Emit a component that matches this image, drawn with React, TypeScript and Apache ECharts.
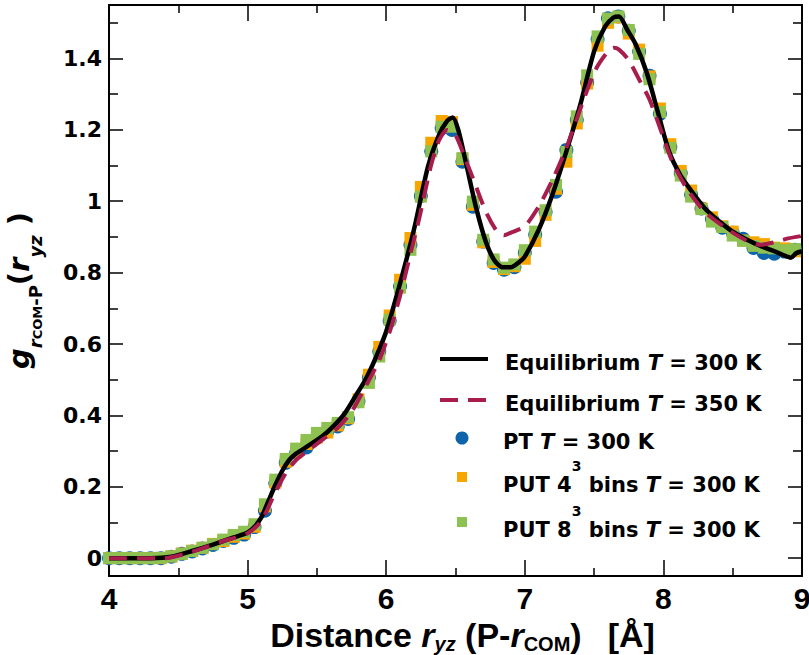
import React, { useEffect, useRef } from "react";
import * as echarts from "echarts";

// ---------- data ----------
const rValues = [
  4.0, 4.075, 4.15, 4.225, 4.3, 4.375, 4.45, 4.525, 4.6, 4.675, 4.75, 4.825, 4.9, 4.975,
  5.05, 5.125, 5.2, 5.275, 5.35, 5.425, 5.5, 5.575, 5.65, 5.725, 5.8, 5.875, 5.95,
  6.025, 6.1, 6.175, 6.25, 6.325, 6.4, 6.475, 6.55, 6.625, 6.7, 6.775, 6.85, 6.925,
  7.0, 7.075, 7.15, 7.225, 7.3, 7.375, 7.45, 7.525, 7.6, 7.675, 7.75, 7.825, 7.9, 7.975,
  8.05, 8.125, 8.2, 8.275, 8.35, 8.425, 8.5, 8.575, 8.65, 8.725, 8.8, 8.875, 8.95,
];

const ptValues = [
  0, 0, 0, 0, 0, 0, 0.004, 0.012, 0.019, 0.027, 0.037, 0.048, 0.057, 0.066,
  0.087, 0.133, 0.21, 0.267, 0.295, 0.31, 0.338, 0.355, 0.369, 0.39, 0.44, 0.506, 0.579,
  0.665, 0.762, 0.878, 1.015, 1.14, 1.205, 1.2, 1.111, 0.985, 0.887, 0.827, 0.808, 0.815,
  0.856, 0.906, 0.97, 1.027, 1.144, 1.228, 1.333, 1.454, 1.513, 1.518, 1.478, 1.42, 1.352, 1.245,
  1.152, 1.079, 1.018, 0.98, 0.95, 0.926, 0.912, 0.895, 0.869, 0.855, 0.853, 0.859, 0.864,
];

const put4Values = [
  0, 0, 0, 0, 0, 0, 0.005, 0.013, 0.021, 0.029, 0.04, 0.048, 0.06, 0.069,
  0.088, 0.145, 0.212, 0.27, 0.296, 0.32, 0.338, 0.352, 0.372, 0.392, 0.445, 0.514, 0.592,
  0.68, 0.78, 0.897, 1.04, 1.164, 1.225, 1.222, 1.118, 0.99, 0.885, 0.83, 0.81, 0.818,
  0.839, 0.889, 0.962, 1.035, 1.111, 1.218, 1.33, 1.436, 1.5, 1.515, 1.47, 1.425, 1.35, 1.26,
  1.16, 1.085, 1.03, 0.98, 0.955, 0.93, 0.915, 0.89, 0.885, 0.88, 0.87, 0.868, 0.86,
];

const put8Values = [
  0, 0, 0, 0, 0, 0.001, 0.005, 0.012, 0.02, 0.029, 0.039, 0.052, 0.065, 0.074,
  0.095, 0.151, 0.22, 0.278, 0.307, 0.331, 0.351, 0.365, 0.379, 0.395, 0.437, 0.491, 0.565,
  0.668, 0.758, 0.864, 1.013, 1.14, 1.209, 1.209, 1.121, 0.999, 0.892, 0.837, 0.814, 0.823,
  0.863, 0.915, 0.975, 1.046, 1.138, 1.238, 1.353, 1.462, 1.512, 1.518, 1.48, 1.413, 1.342, 1.25,
  1.15, 1.072, 1.013, 0.978, 0.943, 0.928, 0.904, 0.889, 0.875, 0.87, 0.868, 0.863, 0.866,
];

const eq300X = [
  4.0, 4.3, 4.45, 4.6, 4.75, 4.9, 5.0, 5.05, 5.1, 5.15, 5.2, 5.25, 5.3, 5.35, 5.45, 5.55,
  5.62, 5.7, 5.78, 5.85, 5.9, 5.95, 6.0, 6.1, 6.2, 6.3, 6.38, 6.44, 6.48, 6.52, 6.58, 6.65,
  6.72, 6.78, 6.84, 6.9, 6.96, 7.0, 7.1, 7.2, 7.3, 7.4, 7.5, 7.58, 7.64, 7.68, 7.74, 7.8,
  7.88, 7.96, 8.04, 8.12, 8.2, 8.3, 8.4, 8.5, 8.6, 8.7, 8.8, 8.86, 8.92, 8.96, 9.0,
];
const eq300Y = [
  0, 0, 0.004, 0.02, 0.038, 0.058, 0.072, 0.088, 0.115, 0.16, 0.205, 0.245, 0.275, 0.293, 0.318, 0.345,
  0.37, 0.405, 0.455, 0.5, 0.54, 0.585, 0.635, 0.77, 0.92, 1.095, 1.185, 1.225, 1.235, 1.2, 1.1, 0.98,
  0.885, 0.835, 0.815, 0.815, 0.83, 0.845, 0.92, 1.02, 1.14, 1.27, 1.42, 1.49, 1.515, 1.518, 1.48, 1.44,
  1.36, 1.25, 1.14, 1.075, 1.03, 0.98, 0.945, 0.915, 0.893, 0.875, 0.86, 0.85, 0.842, 0.855, 0.86,
];

const eq350X = [
  4.0, 4.4, 4.6, 4.8, 5.0, 5.1, 5.2, 5.27, 5.35, 5.45, 5.55, 5.65, 5.75, 5.85, 5.95, 6.03,
  6.1, 6.17, 6.24, 6.32, 6.38, 6.44, 6.5, 6.56, 6.63, 6.72, 6.8, 6.85, 6.9, 7.0, 7.1, 7.2,
  7.3, 7.42, 7.51, 7.59, 7.64, 7.68, 7.75, 7.84, 7.9, 7.99, 8.06, 8.17, 8.3, 8.45, 8.6, 8.7,
  8.8, 8.9, 9.0,
];
const eq350Y = [
  0, 0, 0.018, 0.045, 0.07, 0.105, 0.185, 0.235, 0.275, 0.305, 0.335, 0.365, 0.41, 0.48, 0.555, 0.64,
  0.735, 0.845, 0.955, 1.095, 1.17, 1.2, 1.185, 1.13, 1.06, 0.97, 0.915, 0.905, 0.912, 0.93, 0.985, 1.06,
  1.15, 1.28, 1.368, 1.415, 1.43, 1.425, 1.395, 1.33, 1.285, 1.19, 1.115, 1.035, 0.97, 0.925, 0.89, 0.878,
  0.885, 0.896, 0.903,
];

const seriesNames = [
  "Equilibrium T = 300 K",
  "Equilibrium T = 350 K",
  "PT T = 300 K",
  "PUT 4^3 bins T = 300 K",
  "PUT 8^3 bins T = 300 K",
];
const legendLabels = [
  "{b|Equilibrium }{bi|T}{b| = 300 K}",
  "{b|Equilibrium }{bi|T}{b| = 350 K}",
  "{b|PT }{bi|T}{b| = 300 K}",
  "{b|PUT 4}{sup|3}{b| bins}{sp| }{bi|T}{b| = 300 K}",
  "{b|PUT 8}{sup|3}{b| bins}{sp| }{bi|T}{b| = 300 K}",
];

const xTitle = "{m|Distance }{mi|r}{s|yz}{m| (P-}{mi|r}{sn|COM}{m|)}{gap|[Å]}";
const yTitle = "{g|g}{s|r}{ss|COM}{sn|-P}{p|(}{g|r}{s|yz}{p| )}";

// ---------- styles ----------
const DV = "'DejaVu Sans', sans-serif";
const LIB = "'Liberation Sans', Arial, sans-serif";
const C_BLACK = "#000000";
const C_DASH = "#a81c4e";
const C_BLUE = "#0d64ab";
const C_ORANGE = "#f7a600";
const C_GREEN = "#8dc152";
const DASH = [18, 10];

const zip = (xs: number[], ys: number[]) => xs.map((x, i) => [x, ys[i]]);

const legendRich = {
  b: { fontFamily: DV, fontSize: 21, fontWeight: "bold", color: "#000", lineHeight: 28, verticalAlign: "bottom" },
  bi: { fontFamily: DV, fontSize: 21, fontWeight: "bold", fontStyle: "italic", color: "#000", lineHeight: 28, verticalAlign: "bottom" },
  sup: { fontFamily: DV, fontSize: 14, fontWeight: "bold", color: "#000", lineHeight: 22, verticalAlign: "top" },
  sp: { fontFamily: DV, fontSize: 21, fontWeight: "bold", color: "#000", lineHeight: 36 },
};

function legendRow(
  idx: number,
  left: number,
  top: number,
  w: number,
  h: number,
  pad: number,
  line: null | { color: string; type: any }
) {
  return {
    show: true,
    orient: "vertical",
    left,
    top,
    padding: 0,
    itemWidth: w,
    itemHeight: h,
    selectedMode: false,
    data: [seriesNames[idx]],
    itemStyle: line ? { opacity: 0, borderWidth: 0 } : {},
    lineStyle: line ? { color: line.color, width: 4, type: line.type, opacity: 1 } : {},
    formatter: () => legendLabels[idx],
    textStyle: {
      fontFamily: DV,
      fontSize: 21,
      fontWeight: "bold",
      color: "#000",
      lineHeight: 28,
      padding: [0, 0, 0, pad],
      rich: legendRich,
    },
  };
}

const axisLineStyle = { show: true, onZero: false, lineStyle: { color: "#000", width: 2 } };

export default function App() {
  const ref = useRef<HTMLDivElement>(null);

  useEffect(() => {
    if (!ref.current) return;
    const chart = echarts.init(ref.current, null, { renderer: "svg" });

    const option: any = {
      animation: false,
      backgroundColor: "#ffffff",
      grid: [
        { left: 109, right: 7, top: 5, bottom: 79, containLabel: false, outerBoundsMode: "none" },
        { left: 109, right: 7, top: -12.9, bottom: 96.84, containLabel: false, outerBoundsMode: "none" },
      ],
      xAxis: [
        {
          gridIndex: 0,
          type: "value",
          position: "bottom",
          min: 4,
          max: 9,
          interval: 1,
          axisLine: axisLineStyle,
          axisTick: { show: true, inside: true, length: 16, lineStyle: { color: "#000", width: 1.5 } },
          minorTick: { show: true, splitNumber: 2, length: 8, lineStyle: { color: "#000", width: 1.5 } },
          splitLine: { show: false },
          minorSplitLine: { show: false },
          axisLabel: { show: true, margin: 7, fontFamily: LIB, fontSize: 30, fontWeight: "bold", color: "#000" },
          name: xTitle,
          nameLocation: "middle",
          nameGap: 24,
          nameTextStyle: {
            padding: [0, 0, 0, 14],
            rich: {
              m: { fontFamily: LIB, fontSize: 34, fontWeight: "bold", color: "#000", lineHeight: 38, verticalAlign: "middle" },
              mi: { fontFamily: LIB, fontSize: 34, fontWeight: "bold", fontStyle: "italic", color: "#000", lineHeight: 38, verticalAlign: "middle" },
              s: { fontFamily: LIB, fontSize: 20, fontWeight: "bold", fontStyle: "italic", color: "#000", lineHeight: 22, verticalAlign: "bottom" },
              sn: { fontFamily: LIB, fontSize: 20, fontWeight: "bold", color: "#000", lineHeight: 22, verticalAlign: "bottom" },
              gap: { fontFamily: LIB, fontSize: 34, fontWeight: "bold", color: "#000", lineHeight: 38, verticalAlign: "middle", padding: [0, 0, 0, 26] },
            },
          },
        },
        {
          gridIndex: 0,
          type: "value",
          position: "top",
          min: 4,
          max: 9,
          interval: 1,
          axisLine: axisLineStyle,
          axisTick: { show: true, inside: true, length: 16, lineStyle: { color: "#000", width: 1.5 } },
          minorTick: { show: true, splitNumber: 2, length: 8, lineStyle: { color: "#000", width: 1.5 } },
          splitLine: { show: false },
          axisLabel: { show: false },
        },
        { gridIndex: 1, type: "value", min: 4, max: 9, show: false },
      ],
      yAxis: [
        {
          gridIndex: 0,
          type: "value",
          position: "left",
          min: -0.05,
          max: 1.55,
          axisLine: axisLineStyle,
          axisTick: { show: false },
          axisLabel: { show: false },
          splitLine: { show: false },
          name: yTitle,
          nameLocation: "middle",
          nameRotate: 90,
          nameGap: 65,
          nameTextStyle: {
            rich: {
              g: { fontFamily: DV, fontSize: 29, fontWeight: "bold", fontStyle: "italic", color: "#000", lineHeight: 50, verticalAlign: "middle" },
              p: { fontFamily: DV, fontSize: 29, fontWeight: "bold", color: "#000", lineHeight: 50, verticalAlign: "middle" },
              s: { fontFamily: DV, fontSize: 18, fontWeight: "bold", fontStyle: "italic", color: "#000", lineHeight: 27, verticalAlign: "bottom" },
              sn: { fontFamily: DV, fontSize: 18, fontWeight: "bold", color: "#000", lineHeight: 27, verticalAlign: "bottom" },
              ss: { fontFamily: DV, fontSize: 13, fontWeight: "bold", color: "#000", lineHeight: 12, verticalAlign: "bottom" },
            },
          },
        },
        {
          gridIndex: 0,
          type: "value",
          position: "right",
          min: -0.05,
          max: 1.55,
          axisLine: axisLineStyle,
          axisTick: { show: false },
          axisLabel: { show: false },
          splitLine: { show: false },
        },
        {
          gridIndex: 1,
          type: "value",
          position: "left",
          min: 0,
          max: 1.6,
          interval: 0.2,
          axisLine: { show: false },
          axisTick: { show: true, inside: true, length: 14, lineStyle: { color: "#000", width: 1.5 } },
          minorTick: { show: true, splitNumber: 2, length: 9, lineStyle: { color: "#000", width: 1.5 } },
          splitLine: { show: false },
          minorSplitLine: { show: false },
          axisLabel: {
            show: true,
            margin: 7,
            fontFamily: DV,
            fontSize: 22,
            fontWeight: "bold",
            color: "#000",
            formatter: (v: number) => (v > 1.5 ? "" : String(v)),
          },
        },
        {
          gridIndex: 1,
          type: "value",
          position: "right",
          min: 0,
          max: 1.6,
          interval: 0.2,
          axisLine: { show: false },
          axisTick: { show: true, inside: true, length: 14, lineStyle: { color: "#000", width: 1.5 } },
          minorTick: { show: true, splitNumber: 2, length: 9, lineStyle: { color: "#000", width: 1.5 } },
          splitLine: { show: false },
          axisLabel: { show: false },
        },
      ],
      legend: [
        legendRow(0, 438, 345, 48, 14, 12, { color: C_BLACK, type: "solid" }),
        legendRow(1, 438, 386, 48, 14, 12, { color: C_DASH, type: DASH }),
        legendRow(2, 455.5, 424, 13, 13, 29.5, null),
        legendRow(3, 457, 459, 10, 10, 31, null),
        legendRow(4, 457, 504, 10, 10, 31, null),
      ],
      series: [
        {
          name: seriesNames[0],
          type: "line",
          xAxisIndex: 0,
          yAxisIndex: 0,
          data: zip(eq300X, eq300Y),
          symbol: "none",
          showSymbol: false,
          smooth: 0.25,
          silent: true,
          lineStyle: { color: C_BLACK, width: 4.5 },
          itemStyle: { color: C_BLACK },
        },
        {
          name: seriesNames[1],
          type: "line",
          xAxisIndex: 0,
          yAxisIndex: 0,
          data: zip(eq350X, eq350Y),
          symbol: "none",
          showSymbol: false,
          smooth: 0.25,
          silent: true,
          lineStyle: { color: C_DASH, width: 4, type: DASH },
          itemStyle: { color: C_DASH },
        },
        {
          name: seriesNames[2],
          type: "scatter",
          xAxisIndex: 0,
          yAxisIndex: 0,
          data: zip(rValues, ptValues),
          symbol: "circle",
          symbolSize: 14,
          silent: true,
          itemStyle: { color: C_BLUE, opacity: 1 },
        },
        {
          name: seriesNames[3],
          type: "scatter",
          xAxisIndex: 0,
          yAxisIndex: 0,
          data: zip(rValues, put4Values),
          symbol: "rect",
          symbolSize: 12,
          silent: true,
          itemStyle: { color: C_ORANGE, opacity: 1 },
        },
        {
          name: seriesNames[4],
          type: "scatter",
          xAxisIndex: 0,
          yAxisIndex: 0,
          data: zip(rValues, put8Values),
          symbol: "rect",
          symbolSize: 12,
          silent: true,
          itemStyle: { color: C_GREEN, opacity: 1 },
        },
      ],
    };

    chart.setOption(option);
    return () => chart.dispose();
  }, []);

  return (
    <div
      ref={ref}
      style={{ position: "absolute", left: 0, top: 0, width: 809, height: 655, background: "#fff" }}
    />
  );
}
